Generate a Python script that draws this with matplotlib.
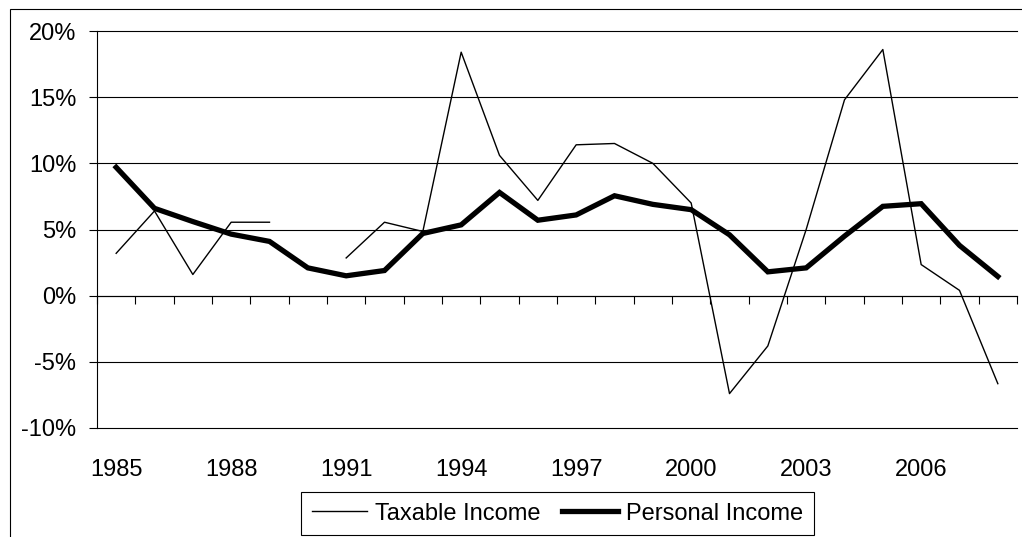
import matplotlib.pyplot as plt
from matplotlib.patches import Rectangle
import numpy as np

# Chart data.
years = list(range(1985, 2009))
taxable = [3.2, 6.4, 1.6, 5.55, 5.55, np.nan, 2.85, 5.55, 4.85, 18.4, 10.6, 7.2,
    11.4, 11.5, 10.0, 7.0, -7.4, -3.8, 5.0, 14.8, 18.6, 2.35, 0.4, -6.65]
personal = [9.7, 6.6, 5.6, 4.65, 4.1, 2.1, 1.5, 1.9, 4.7, 5.35, 7.8, 5.7,
    6.1, 7.55, 6.9, 6.5, 4.6, 1.8, 2.1, 4.5, 6.75, 6.95, 3.8, 1.45]
y_ticks = [-10, -5, 0, 5, 10, 15, 20]
y_labels = ['-10%', '-5%', '0%', '5%', '10%', '15%', '20%']
label_years = [1985, 1988, 1991, 1994, 1997, 2000, 2003, 2006]

plt.rcParams['font.family'] = ['Liberation Sans', 'DejaVu Sans']
plt.rcParams['font.size'] = 17

W, H = 1022, 537
fig = plt.figure(figsize=(W / 100, H / 100), dpi=100)
ax = fig.add_axes([97 / W, 1 - 428 / H, (1017 - 97) / W, (428 - 31) / H])

x = np.arange(len(years))
ax.plot(x, taxable, color='black', lw=1.0, label='Taxable Income')
ax.plot(x, personal, color='black', lw=3.8, label='Personal Income',
    solid_joinstyle='miter')

# Axis limits and gridlines.
ax.set_xlim(-0.5, len(years) - 0.5)
ax.set_ylim(-10, 20)
ax.set_yticks(y_ticks, y_labels)
ax.tick_params(axis='y', direction='out', length=6, width=0.8, pad=9)
for v in y_ticks:
    ax.axhline(v, color='black', lw=0.8, zorder=0, clip_on=False)

for side in ['top', 'right', 'bottom']:
    ax.spines[side].set_visible(False)
ax.spines['left'].set_linewidth(0.8)

# Category labels below the plot area.
ax.set_xticks([years.index(y) for y in label_years],
    [str(y) for y in label_years])
ax.tick_params(axis='x', length=0, pad=22)

# Tick marks on the zero line, between categories.
sec = ax.secondary_xaxis(0, transform=ax.transData)
sec.set_xticks(np.arange(-0.5, len(years), 1.0))
sec.tick_params(axis='x', direction='out', length=6, width=0.8,
    labelbottom=False)
sec.spines['bottom'].set_linewidth(0.8)

# Legend below the chart.
leg = fig.legend(loc='upper left', bbox_to_anchor=(301 / W, 1 - 492 / H),
    ncol=2, frameon=True, fancybox=False, framealpha=1, borderaxespad=0,
    borderpad=0.45, handlelength=2.35, handletextpad=0.35,
    columnspacing=0.9, fontsize=17)
leg.get_frame().set_edgecolor('black')
leg.get_frame().set_linewidth(0.8)

# Outer chart border.
fig.patches.append(Rectangle((10 / W, -0.5), 2, 1.5 - 9 / H,
    transform=fig.transFigure, fill=False, edgecolor='black', lw=0.8))

fig.savefig('out.png', dpi=100)
